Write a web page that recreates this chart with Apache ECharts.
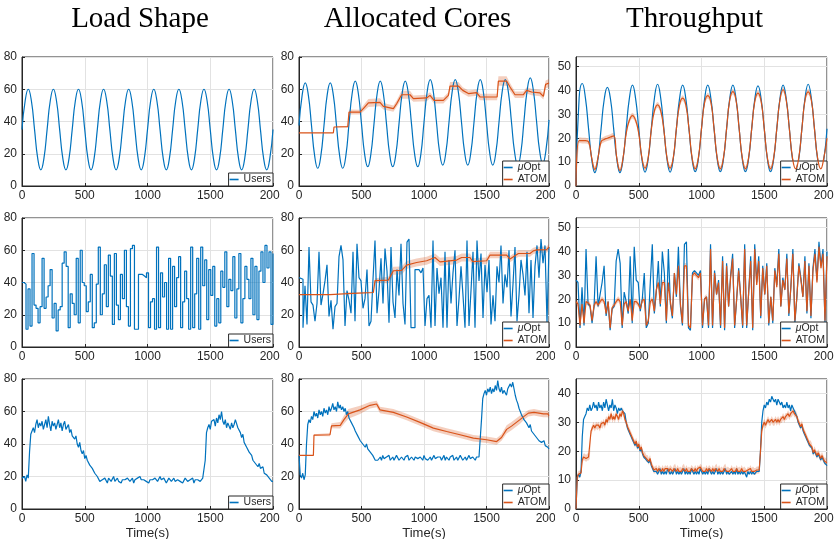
<!DOCTYPE html>
<html>
<head>
<meta charset="utf-8">
<script src="https://cdn.jsdelivr.net/npm/echarts@6/dist/echarts.min.js"></script>
<style>
  body { margin: 0; background: #fff; }
  .col { position: absolute; top: 0; height: 539px; }
</style>
</head>
<body>
<div id="col_load" class="col" style="left: 0; width: 280px"></div>
<div id="col_cores" class="col" style="left: 280px; width: 275px"></div>
<div id="col_thr" class="col" style="left: 555px; width: 279px"></div>
<script>
// ---------------- data ----------------
// row 1: sine load, sampled every 25 s
var r1Users = [
  35, 52.7, 60, 52.7, 35, 17.3, 10, 17.3, 35, 52.7, 60, 52.7, 35, 17.3, 10, 17.3,
  35, 52.7, 60, 52.7, 35, 17.3, 10, 17.3, 35, 52.7, 60, 52.7, 35, 17.3, 10, 17.3,
  35, 52.7, 60, 52.7, 35, 17.3, 10, 17.3, 35, 52.7, 60, 52.7, 35, 17.3, 10, 17.3,
  35, 52.7, 60, 52.7, 35, 17.3, 10, 17.3, 35, 52.7, 60, 52.7, 35, 17.3, 10, 17.3,
  35, 52.7, 60, 52.7, 35, 17.3, 10, 17.3, 35, 52.7, 60, 52.7, 35, 17.3, 10, 17.3,
  35
];
var r1CoreOpt = [
  37.5, 56.2, 64, 56.2, 37.5, 18.8, 11, 18.8, 37.5, 56.2, 64, 56.2, 37.5, 18.8, 11, 18.8,
  38.5, 57.2, 65, 57.2, 38.5, 19.8, 12, 19.8, 38.5, 57.2, 65, 57.2, 38.5, 19.8, 12, 19.8,
  38.5, 57.2, 65, 57.2, 38.5, 19.8, 12, 19.8, 39.5, 58.2, 66, 58.2, 39.5, 20.8, 13, 20.8,
  39.5, 58.2, 66, 58.2, 39.5, 20.8, 13, 20.8, 39.5, 58.2, 66, 58.2, 39.5, 20.8, 13, 20.8,
  39.5, 58.2, 66, 58.2, 39.5, 20.8, 13, 20.8, 40.5, 59.2, 67, 59.2, 40.5, 21.8, 14, 21.8,
  41
];
var r1ThrOpt = [
  0, 36.9, 42.9, 36.9, 24, 11.3, 5.6, 11.3, 24, 36.3, 41.3, 36.3, 24, 11.3, 5.6, 11.3,
  24, 36.6, 42.2, 36.6, 24, 11.3, 5.8, 11.3, 24, 36.8, 42.6, 36.8, 24, 11.3, 5.8, 11.3,
  24, 36.6, 42.2, 36.6, 24, 11.3, 6, 11.3, 24, 36.6, 42.2, 36.6, 24, 11.3, 6, 11.3,
  24, 36.6, 42.2, 36.6, 24, 11.3, 6, 11.3, 24, 36.5, 41.9, 36.5, 24, 11.3, 6, 11.3,
  24, 36.6, 42.2, 36.6, 24, 11.3, 6, 11.3, 24, 36.8, 42.6, 36.8, 24, 11.3, 6, 11.3,
  24
];
var r1ThrAtom = [
  0, 19, 19, 19, 18.5, 11.8, 7, 11.8, 18.5, 19.5, 20, 20.5, 21, 11.8, 6.5, 11.8,
  22, 27.5, 29.5, 27.5, 22, 11.8, 7.5, 11.8, 23.5, 31.5, 34, 31.5, 23.5, 11.8, 7.5, 11.8,
  24, 34, 36.8, 34, 24, 11.8, 7.2, 11.8, 24, 35, 37.8, 35, 24, 11.8, 7.2, 11.8,
  24, 36, 39.5, 36, 24, 11.8, 7.2, 11.8, 24, 35.5, 38.9, 35.5, 24, 11.8, 7.2, 11.8,
  24, 36, 40.3, 36, 24, 11.8, 7.2, 11.8, 24, 36, 39.4, 36, 24, 11.8, 7.2, 11.8,
  20
];
var r1AtomT = [0, 275, 280, 390, 400, 488, 520, 555, 648, 675, 755, 781, 821, 888, 915, 1021, 1048, 1080, 1155, 1195,
  1208, 1275, 1310, 1355, 1421, 1448, 1585, 1595, 1661, 1688, 1728, 1795, 1821, 1861, 1928, 1955, 1973, 2000];
var r1AtomV = [33, 33, 36.6, 36.8, 45.9, 45.8, 48.5, 51.5, 51.9, 49.4, 48, 51, 56.6, 56.6, 54.2, 54.6, 56.2, 53.1, 53.1, 56.2,
  62, 62, 59.3, 57.3, 57.9, 55.2, 55.2, 65.1, 65.1, 61.4, 56.6, 56.6, 59.3, 58.3, 57.7, 55.6, 63, 63.9];
var r1AtomW = [0, 0, 0, 0.5, 1.5, 1.5, 2, 2.5, 2.5, 2, 2, 2, 2.5, 2.5, 2, 2, 2, 2, 2, 2,
  2.5, 2.5, 2, 2, 2, 2, 2, 3, 3, 2.5, 2, 2, 2, 2, 2, 2, 2.5, 2.5];

// row 2: random load, one level every 16 s
var r2Users = [
  40, 39, 11, 36, 13, 58, 26, 24, 15, 25, 55, 24, 31, 38, 48, 18, 27, 10, 23, 25,
  52, 59, 50, 12, 33, 27, 20, 55, 15, 60, 40, 38, 22, 28, 45, 12, 15, 39, 62, 20,
  33, 51, 25, 57, 44, 14, 58, 26, 17, 45, 30, 60, 25, 13, 61, 63, 11, 11, 45, 45,
  44, 43, 46, 12, 28, 30, 11, 62, 12, 46, 31, 40, 11, 55, 11, 50, 25, 43, 56, 12,
  28, 47, 30, 11, 62, 12, 33, 55, 11, 62, 38, 54, 17, 48, 32, 50, 13, 30, 15, 47,
  37, 59, 25, 42, 35, 56, 18, 36, 58, 15, 30, 50, 42, 30, 55, 20, 50, 17, 47, 59,
  40, 63, 49, 59, 14, 58
];
var r2CoreOpt = [
  43, 42, 12, 38, 14, 62, 28, 26, 16, 27, 59, 26, 33, 41, 51, 19, 29, 11, 25, 27,
  56, 63, 54, 13, 35, 29, 21, 59, 16, 64, 43, 41, 24, 30, 48, 13, 16, 42, 66, 21,
  35, 55, 27, 61, 47, 15, 62, 28, 18, 48, 32, 64, 27, 14, 65, 67, 12, 12, 48, 48,
  47, 46, 49, 13, 30, 32, 12, 66, 13, 49, 33, 43, 12, 59, 12, 54, 27, 46, 60, 13,
  30, 50, 32, 12, 66, 13, 35, 59, 12, 66, 41, 58, 18, 51, 34, 54, 14, 32, 16, 50,
  40, 63, 27, 45, 37, 60, 19, 39, 62, 16, 32, 54, 45, 32, 59, 21, 54, 18, 50, 63,
  43, 67, 52, 63, 15, 62
];
var r2ThrOpt = [
  28, 27, 8, 25, 9, 41, 18, 17, 10, 17, 38, 17, 22, 27, 34, 13, 19, 7, 16, 17,
  36, 41, 35, 8, 23, 19, 14, 38, 10, 42, 28, 27, 15, 20, 31, 8, 10, 27, 43, 14,
  23, 36, 17, 40, 31, 10, 41, 18, 12, 31, 21, 42, 17, 9, 43, 44, 8, 7, 31, 32,
  31, 30, 32, 8, 20, 21, 8, 43, 8, 32, 22, 28, 8, 38, 7, 35, 17, 30, 39, 8,
  20, 33, 21, 8, 43, 8, 23, 38, 7, 43, 27, 38, 12, 34, 22, 35, 9, 21, 10, 33,
  26, 41, 17, 29, 24, 39, 13, 25, 41, 10, 21, 35, 29, 21, 38, 14, 35, 12, 33, 41,
  28, 44, 34, 41, 10, 40
];
var r2ThrAtom = [
  19, 18, 9, 18, 10, 19, 18.5, 17.5, 11, 17.5, 19, 17.5, 19, 20, 19, 14, 19, 8, 16.5, 17.5,
  19, 20, 19, 9, 18, 19, 15, 20, 11, 19, 19, 18, 16, 19.5, 20, 9, 11, 19, 20, 15,
  24, 27, 18, 27, 27, 11, 27, 19, 13, 31, 22, 34, 18, 10, 34, 34, 9, 8, 30, 31,
  30, 29, 31, 9, 20, 21, 9, 41, 9, 31, 22, 27, 9, 36, 8, 34, 17, 29, 37, 9,
  20, 32, 21, 9, 41, 9, 23, 36, 8, 41, 26, 36, 13, 33, 22, 34, 10, 21, 11, 32,
  25, 39, 17, 28, 24, 37, 14, 25, 39, 11, 21, 34, 28, 21, 36, 15, 34, 13, 32, 39,
  27, 42, 33, 39, 11, 38
];
var r2AtomT = [0, 248, 252, 355, 360, 595, 608, 715, 755, 821, 861, 941, 1021, 1088, 1128, 1261, 1301, 1368, 1389, 1501,
  1528, 1661, 1688, 1755, 1848, 1875, 1901, 1981, 2000];
var r2AtomV = [32.5, 32.5, 33, 33, 33.7, 33.8, 41.2, 41.5, 47.3, 47.5, 50.8, 52.4, 53.5, 55.5, 52.8, 53.9, 55.5, 55.5, 53, 53.5,
  57, 57, 54.5, 58, 58, 59.6, 60.2, 60.4, 62];
var r2AtomW = [0, 0, 0, 0, 0.3, 0.5, 1.5, 2, 2.5, 2.5, 2.5, 2.5, 2.5, 2.5, 2.5, 2.5, 2.5, 2.5, 2, 2,
  2, 2, 2, 2, 2, 2, 2, 2, 2];

// row 3: trace load, sampled every 10 s
var r3Users = [
  19, 18, 20, 17, 21, 19,
  35, 46, 48, 50, 47, 52, 55, 50, 53, 51, 54, 49, 52, 55, 50, 57, 52, 48, 54, 51,
  53, 49, 52, 55, 50, 53, 48, 52, 54, 49, 50, 52, 47, 49, 45, 46, 43, 45, 40, 38,
  41, 36, 34, 36, 31, 33, 30, 31, 27, 28, 25, 24, 22, 23, 20, 19, 17, 18,
  18, 17, 19, 18, 16, 19, 18, 17, 18, 20, 17, 18, 19, 17, 18, 16, 18, 19, 18, 17,
  19, 18, 17, 18, 19, 16, 18, 17, 19, 18, 20, 18, 17, 18, 19, 17, 18, 16, 18, 19,
  18, 17, 19, 18, 17, 18, 20, 18, 17, 19, 18, 16, 17, 19, 18, 17, 18, 19, 17, 16,
  18, 19, 17, 18, 16, 17, 19, 18, 17, 16, 18, 17, 19, 16, 18, 17, 18, 19, 17, 18,
  19,
  19, 30, 47, 50, 52, 49, 54, 53, 55, 51, 56, 53, 58, 55, 60, 54, 52, 55, 50, 53,
  51, 49, 53, 50, 52, 55, 54, 50, 51, 47, 44, 46, 41, 42, 38, 39, 35, 36, 33, 30,
  31, 28, 29, 26, 28, 25, 24, 26, 22, 23, 21, 20, 19, 18, 17, 17
];
var r3CoreOpt = [
  33, 21, 19, 22, 18, 21,
  40, 52, 55, 53, 57, 55, 60, 57, 59, 56, 61, 58, 60, 57, 62, 59, 61, 58, 63, 60,
  62, 65, 61, 63, 60, 66, 62, 64, 61, 63, 60, 62, 58, 60, 56, 57, 53, 54, 50, 48,
  49, 45, 46, 42, 43, 40, 41, 38, 40, 37, 38, 35, 36, 33, 32, 30, 31, 30,
  31, 32, 30, 33, 31, 30, 32, 31, 33, 30, 31, 32, 30, 31, 33, 32, 30, 31, 32, 31,
  30, 32, 31, 33, 30, 31, 32, 31, 30, 32, 33, 31, 30, 32, 31, 30, 33, 31, 32, 30,
  31, 32, 30, 31, 33, 31, 30, 32, 31, 32, 30, 31, 33, 30, 32, 31, 30, 32, 31, 33,
  30, 31, 32, 30, 31, 33, 32, 30, 31, 32, 30, 31, 33, 31, 30, 32, 31, 30, 32, 31,
  32,
  33, 55, 68, 71, 73, 70, 74, 72, 75, 71, 74, 72, 76, 73, 79, 74, 72, 75, 71, 73,
  72, 70, 74, 73, 77, 75, 78, 74, 70, 67, 65, 62, 60, 58, 59, 55, 56, 53, 54, 50,
  52, 48, 49, 46, 47, 44, 45, 42, 43, 41, 40, 42, 39, 40, 38, 37
];
var r3ThrOpt = [
  0, 11, 12, 11, 13, 25,
  31, 32, 33, 35, 34, 36, 34, 35, 37, 35, 36, 34, 37, 35, 36, 34, 37, 35, 38, 36,
  34, 36, 35, 38, 34, 36, 35, 33, 35, 34, 35, 34, 34, 33, 30, 28, 27, 26, 25, 24,
  23, 22, 23, 21, 22, 20, 21, 19, 18, 18, 17, 17, 16, 17, 15, 14, 13, 13,
  13, 12, 13, 14, 12, 13, 12, 13, 12, 14, 13, 12, 13, 12, 13, 14, 12, 13, 12, 13,
  12, 13, 14, 12, 13, 12, 13, 12, 14, 13, 12, 13, 12, 13, 12, 14, 13, 12, 13, 12,
  13, 12, 14, 13, 12, 13, 12, 13, 14, 12, 13, 12, 13, 12, 13, 14, 12, 13, 12, 12,
  13, 12, 13, 12, 14, 12, 13, 12, 13, 12, 13, 12, 11, 13, 12, 13, 12, 13, 12, 12,
  13,
  13, 13, 20, 30, 34, 36, 35, 37, 36, 38, 37, 39, 38, 37, 38, 36, 38, 37, 36, 37,
  35, 36, 35, 37, 35, 36, 34, 36, 35, 34, 33, 32, 30, 29, 28, 29, 27, 26, 25, 24,
  23, 22, 22, 21, 19, 20, 19, 18, 19, 18, 17, 18, 17, 16, 16, 15
];
var r3ThrAtom = [
  0, 11, 12, 12, 12.5, 17,
  18, 18, 17.5, 18, 18, 18.5, 27, 28, 29, 28, 29, 28.5, 29, 28, 29.5, 29, 30, 29, 31, 30,
  32, 31, 33, 31, 32, 31, 33, 32, 31, 33, 32, 34, 33, 31, 30, 28.5, 27.5, 26.5, 25.5, 24.5,
  23.5, 22.5, 23.5, 21.5, 22.5, 20.5, 21.5, 19.5, 18.5, 18.5, 17.5, 17.5, 16.5, 17.5, 15.5, 14.5, 13.5, 13.5,
  14, 13, 14, 13.5, 13, 14, 13, 14, 13.5, 14, 13, 14, 13.5, 13, 14, 14.5, 13, 14, 13, 13.5,
  13, 14, 14.5, 13, 14, 13, 13.5, 13, 14, 13.5, 13, 14, 13, 14, 13.5, 14.5, 14, 13, 13.5, 13,
  14, 13, 14, 13.5, 13, 14, 13, 14, 14.5, 13, 14, 13, 13.5, 13, 14, 14.5, 13, 13.5, 13, 13,
  14, 13, 13.5, 13, 14, 13, 13.5, 13, 14, 13, 13.5, 13, 12.5, 13.5, 13, 14, 13, 13.5, 13, 13,
  13.5,
  13.5, 13.5, 20, 27, 29, 30, 29, 30, 31, 30, 30, 31, 30, 30, 31, 30, 31, 30, 31, 31,
  32, 31, 32, 32, 33, 32, 33, 33, 34, 33, 33, 32, 30.5, 29.5, 28.5, 29.5, 27.5, 26.5, 25.5, 24.5,
  23.5, 22.5, 22.5, 21.5, 19.5, 20.5, 19.5, 18.5, 19.5, 18.5, 17.5, 18.5, 17.5, 16.5, 16.5, 16
];
var r3AtomT = [0, 115, 120, 248, 260, 330, 360, 395, 488, 568, 621, 648, 755, 861, 968, 1075, 1181, 1288, 1395, 1501,
  1581, 1620, 1661, 1700, 1768, 1800, 1835, 1880, 1920, 1955, 1990, 2000];
var r3AtomV = [33, 33, 45.5, 45.7, 51.2, 51.5, 55, 58.5, 61, 63.8, 64.6, 61, 59.5, 56.6, 53.3, 49.8, 47.7, 45.7, 43.6, 42.6,
  41.5, 44, 49, 51, 55, 57, 59, 59.5, 59, 58.5, 58.5, 57.5];
var r3AtomW = [0, 0, 0.5, 1, 1.5, 2, 2.5, 3, 2.5, 2, 2, 2, 2, 2, 2, 2, 2, 2, 2, 2,
  2, 2, 2.5, 2.5, 2.5, 2, 2, 2, 2, 2, 2, 2];

var thrBandW = 1.2;   // half width of the ATOM throughput band

// ---------------- drawing ----------------
var FONT = "'Liberation Sans', Arial, sans-serif";
var INK = '#262626';
var BLUE = '#0072BD';
var ORANGE = '#D95319';
var BAND = 'rgba(217,83,25,0.28)';
var ROW_TOP = [57, 218, 379];
var ROW_H = [129, 129, 130];

function times(dt) {
  var t = [];
  for (var x = 0; x <= 2000; x += dt) t.push(x);
  return t;
}
var t25 = times(25), t16 = times(16), t10 = times(10);

function xy(t, v) {
  return t.map(function (x, i) { return [x, v[i]]; });
}

function panels(title, titlePad, divW, gridLeft, gridW, yMax, legendNames) {
  var option = {
    animation: false,
    title: {
      text: title, left: 'center', top: 0, padding: [5, 0, 5, titlePad],
      textStyle: { fontFamily: "'Liberation Serif', serif", fontSize: 29, fontWeight: 'normal', color: '#000' }
    },
    grid: [], xAxis: [], yAxis: [], legend: [], series: []
  };
  for (var r = 0; r < 3; r++) {
    option.grid.push({
      left: gridLeft, top: ROW_TOP[r], width: gridW, height: ROW_H[r],
      show: true, borderColor: INK, borderWidth: 1, backgroundColor: '#fff', outerBoundsMode: 'none'
    });
    option.xAxis.push({
      type: 'value', gridIndex: r, min: 0, max: 2000, interval: 500,
      name: r === 2 ? 'Time(s)' : '', nameLocation: 'middle', nameGap: 18,
      nameTextStyle: { fontFamily: FONT, fontSize: 13, color: INK },
      axisLine: { lineStyle: { color: INK } },
      axisTick: { inside: true, length: 3, lineStyle: { color: INK } },
      axisLabel: {
        fontFamily: FONT, fontSize: 12, color: INK, margin: 4,
        formatter: function (v) { return String(v); }
      },
      splitLine: { lineStyle: { color: '#e2e2e2' } }
    });
    option.yAxis.push({
      type: 'value', gridIndex: r, min: 0, max: yMax[r], interval: yMax[r] > 60 ? 20 : 10,
      axisLine: { show: true, lineStyle: { color: INK } },
      axisTick: { show: true, inside: true, length: 3, lineStyle: { color: INK } },
      axisLabel: {
        fontFamily: FONT, fontSize: 12, color: INK, margin: 5, showMaxLabel: yMax[r] % 10 === 0,
        formatter: function (v) { return v % 10 === 0 ? String(v) : ''; }
      },
      splitLine: { lineStyle: { color: '#e2e2e2' } }
    });
    option.legend.push({
      data: legendNames.map(function (n) { return { name: n, icon: 'rect' }; }),
      orient: 'vertical', right: divW - gridLeft - gridW, bottom: 539 - ROW_TOP[r] - ROW_H[r],
      itemWidth: 9, itemHeight: 1.6, itemGap: 1, padding: [1, 2, 1, 1],
      borderColor: INK, borderWidth: 1, backgroundColor: '#fff', selectedMode: false,
      formatter: function (n) { return n === 'μOpt' ? '{i|μ}Opt' : n; },
      textStyle: {
        fontFamily: FONT, fontSize: 10.5, color: INK,
        rich: { i: { fontFamily: FONT, fontSize: 10.5, fontStyle: 'italic', color: INK } }
      }
    });
  }
  return option;
}

function line(name, r, data, color, extra) {
  var s = {
    name: name, type: 'line', xAxisIndex: r, yAxisIndex: r, data: data, color: color,
    symbol: 'none', lineStyle: { width: 1.2, color: color }, z: 3
  };
  for (var k in extra) s[k] = extra[k];
  return s;
}

// shaded band v +- w, drawn as one polygon through the axes' coord()
function band(r, t, v, w, smooth) {
  var half = function (i) { return typeof w === 'number' ? w : w[i]; };
  return {
    type: 'custom', xAxisIndex: r, yAxisIndex: r, silent: true, z: 2, data: [[0, 0]],
    renderItem: function (params, api) {
      var upper = [], lower = [];
      for (var i = 0; i < t.length; i++) {
        upper.push(api.coord([t[i], v[i] + half(i)]));
        lower.push(api.coord([t[i], v[i] - half(i)]));
      }
      var pts = upper.concat(lower.reverse());
      return {
        type: 'polygon',
        shape: { points: pts, smooth: smooth ? 0.35 : 0 },
        style: { fill: BAND, stroke: null }
      };
    }
  };
}

function draw_load() {
  var myChart = echarts.init(document.getElementById('col_load'), null, { renderer: 'canvas' });
  var option = panels('Load Shape', 0, 280, 22, 251, [80, 80, 80], ['Users']);
  option.series = [
    line('Users', 0, xy(t25, r1Users), BLUE, { smooth: true }),
    line('Users', 1, xy(t16, r2Users), BLUE, { step: 'end' }),
    line('Users', 2, xy(t10, r3Users), BLUE)
  ];
  myChart.setOption(option);
}

function draw_cores() {
  var myChart = echarts.init(document.getElementById('col_cores'), null, { renderer: 'canvas' });
  var option = panels('Allocated Cores', 7, 275, 19, 250, [80, 80, 80], ['μOpt', 'ATOM']);
  option.series = [
    line('μOpt', 0, xy(t25, r1CoreOpt), BLUE, { smooth: true }),
    band(0, r1AtomT, r1AtomV, r1AtomW, false),
    line('ATOM', 0, xy(r1AtomT, r1AtomV), ORANGE, { z: 4 }),
    line('μOpt', 1, xy(t16, r2CoreOpt), BLUE, { step: 'end' }),
    band(1, r2AtomT, r2AtomV, r2AtomW, false),
    line('ATOM', 1, xy(r2AtomT, r2AtomV), ORANGE, { z: 4 }),
    line('μOpt', 2, xy(t10, r3CoreOpt), BLUE),
    band(2, r3AtomT, r3AtomV, r3AtomW, false),
    line('ATOM', 2, xy(r3AtomT, r3AtomV), ORANGE, { z: 4 })
  ];
  myChart.setOption(option);
}

function draw_thr() {
  var myChart = echarts.init(document.getElementById('col_thr'), null, { renderer: 'canvas' });
  var option = panels('Throughput', 5, 279, 21, 251, [54, 54, 45], ['μOpt', 'ATOM']);
  option.series = [
    line('μOpt', 0, xy(t25, r1ThrOpt), BLUE, { smooth: true }),
    band(0, t25, r1ThrAtom, thrBandW, true),
    line('ATOM', 0, xy(t25, r1ThrAtom), ORANGE, { smooth: true, z: 4 }),
    line('μOpt', 1, xy(t16, r2ThrOpt), BLUE),
    band(1, t16, r2ThrAtom, thrBandW, false),
    line('ATOM', 1, xy(t16, r2ThrAtom), ORANGE, { z: 4 }),
    line('μOpt', 2, xy(t10, r3ThrOpt), BLUE),
    band(2, t10, r3ThrAtom, thrBandW, false),
    line('ATOM', 2, xy(t10, r3ThrAtom), ORANGE, { z: 4 })
  ];
  myChart.setOption(option);
}

draw_load();
draw_cores();
draw_thr();
</script>
</body>
</html>
